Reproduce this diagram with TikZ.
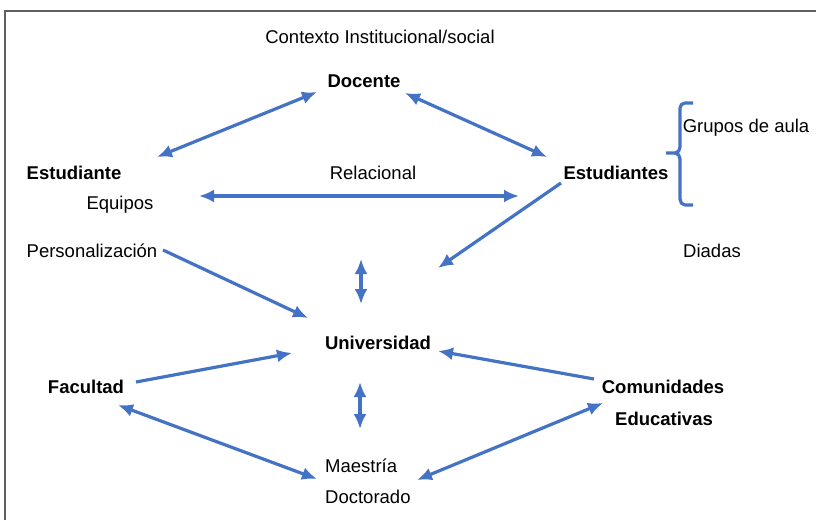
\documentclass[tikz,border=0pt]{standalone}
\usepackage{fontspec}
\setmainfont{Liberation Sans}
\usetikzlibrary{arrows.meta}
\definecolor{arrowblue}{HTML}{4472C4}
\definecolor{framegray}{HTML}{5F5F5F}
\tikzset{
  lbl/.style={inner sep=0pt, font=\fontsize{18.5}{22}\selectfont},
  blbl/.style={inner sep=0pt, font=\fontsize{18.5}{22}\selectfont\bfseries},
  conn/.style={draw=arrowblue, line width=3.2pt, -{Latex[length=15pt,width=13pt]}},
  dconn/.style={draw=arrowblue, line width=3.2pt, {Latex[length=15pt,width=13pt]}-{Latex[length=15pt,width=13pt]}},
  bracepath/.style={draw=arrowblue, line width=3.2pt, line join=round}
}
\begin{document}
\begin{tikzpicture}[x=1pt,y=-1pt]
\useasboundingbox (0,0) rectangle (816,520);
% frame
\draw[framegray, line width=2pt] (5,520) -- (5,11) -- (816,11);
% texts
\node[lbl] (ctx) at (380,37) {Contexto Institucional/social};
\node[blbl] (doc) at (364,81) {Docente};
\node[blbl] (est) at (74,173) {Estudiante};
\node[lbl] (rel) at (373,173) {Relacional};
\node[blbl] (ests) at (616,173) {Estudiantes};
\node[lbl] (grp) at (746,128) {Grupos de aula};
\node[lbl] (equ) at (120,205) {Equipos};
\node[lbl] (per) at (92,251) {Personalización};
\node[lbl] (dia) at (712,251) {Diadas};
\node[blbl] (uni) at (378,343) {Universidad};
\node[blbl] (fac) at (86,387) {Facultad};
\node[blbl] (com) at (663,387) {Comunidades};
\node[blbl] (edu) at (664,419) {Educativas};
\node[lbl, anchor=west] (mae) at (325,466) {Maestría};
\node[lbl, anchor=west] (dct) at (325,497) {Doctorado};
% connector end points
\coordinate (a1) at (157,157); \coordinate (a2) at (317,92);
\coordinate (b1) at (405,93);  \coordinate (b2) at (547,157);
\coordinate (c1) at (199,196); \coordinate (c2) at (519,196);
\coordinate (d1) at (561,183); \coordinate (d2) at (438,268);
\coordinate (e1) at (163,250); \coordinate (e2) at (308,318);
\coordinate (f1) at (361,259); \coordinate (f2) at (361,304);
\coordinate (g1) at (136,382); \coordinate (g2) at (292,353);
\coordinate (h1) at (594,379); \coordinate (h2) at (438,351);
\coordinate (i1) at (360,382); \coordinate (i2) at (360,429);
\coordinate (j1) at (118,405); \coordinate (j2) at (317,479);
\coordinate (k1) at (603,403); \coordinate (k2) at (417,480);
% connectors
\draw[dconn] (a1) -- (a2);
\draw[dconn] (b1) -- (b2);
\draw[dconn] (c1) -- (c2);
\draw[conn] (d1) -- (d2);
\draw[conn] (e1) -- (e2);
\draw[dconn] (f1) -- (f2);
\draw[conn] (g1) -- (g2);
\draw[conn] (h1) -- (h2);
\draw[dconn] (i1) -- (i2);
\draw[dconn] (j1) -- (j2);
\draw[dconn] (k1) -- (k2);
% brace
\draw[bracepath] (693,103) -- (685,103) to[out=180,in=90] (680,108) -- (680,147)
  to[out=270,in=0] (675,153) -- (666,153);
\draw[bracepath] (675,153) to[out=0,in=90] (680,159) -- (680,199)
  to[out=270,in=180] (685,205) -- (693,205);
\end{tikzpicture}
\end{document}
